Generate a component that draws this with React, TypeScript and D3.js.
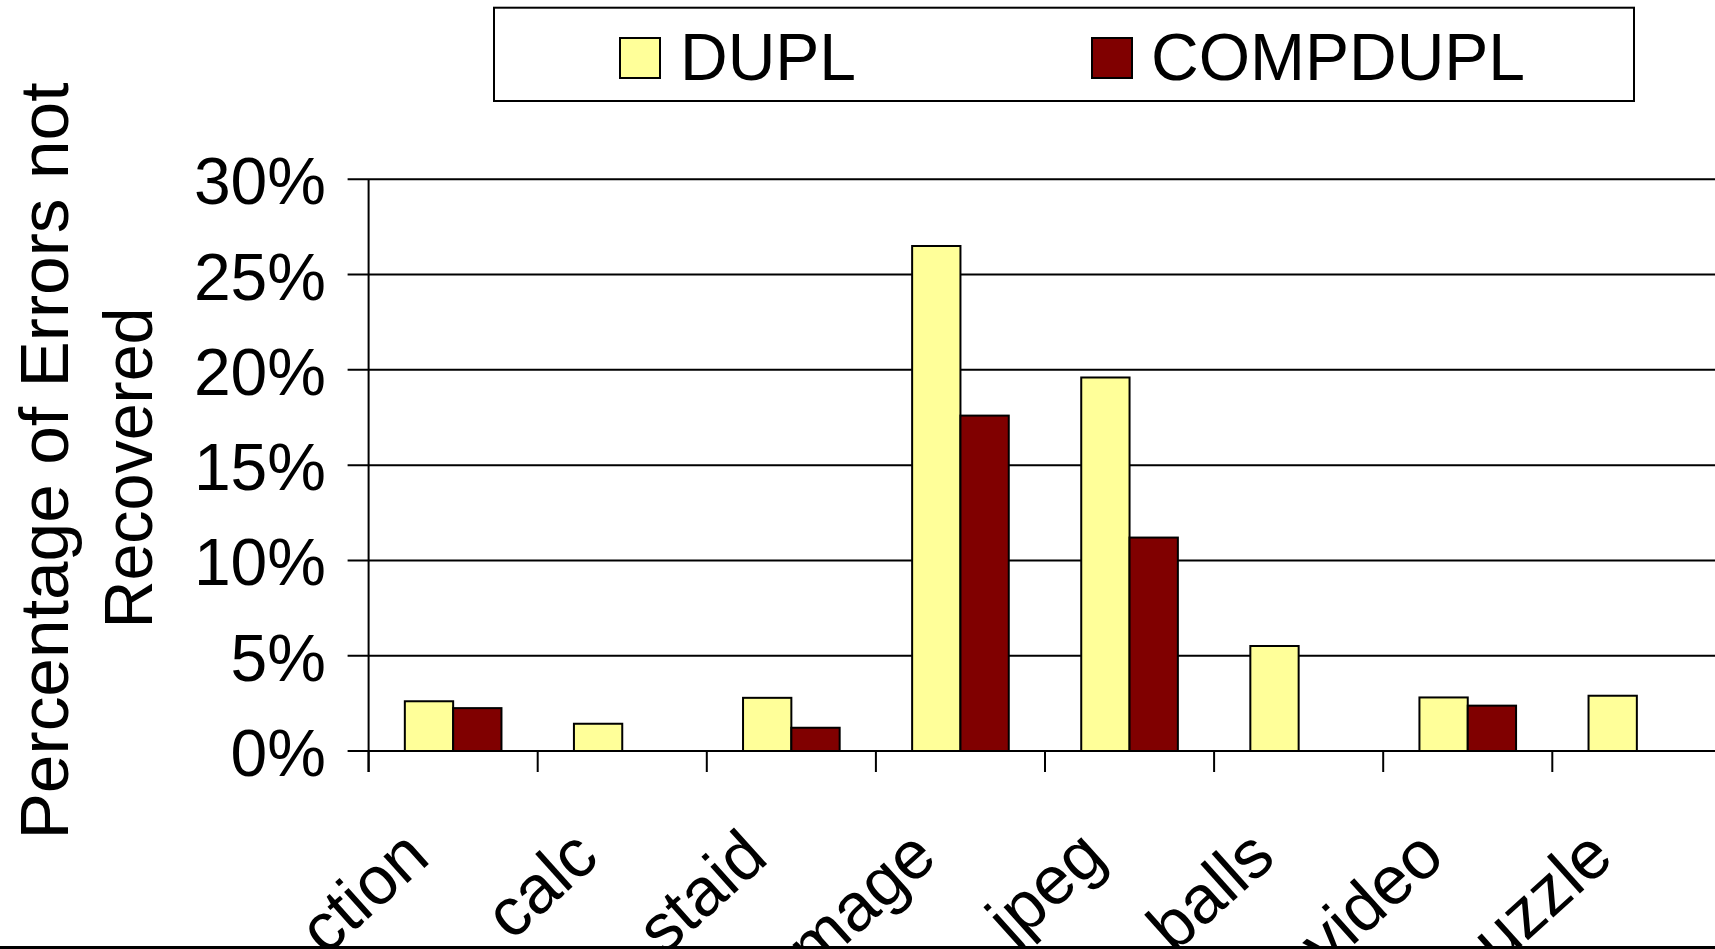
import React from "react";
import * as d3 from "d3";

// Benchmarks (names as printed along the x axis)
const categories = ["ction", "calc", "staid", "mage", "jpeg", "balls", "video", "uzzle"];
const seriesNames = ["DUPL", "COMPDUPL"];
// Percentage of errors not recovered, per benchmark
const duplValues = [2.61, 1.43, 2.79, 26.5, 19.6, 5.51, 2.81, 2.9];
const compduplValues = [2.25, 0, 1.22, 17.6, 11.2, 0, 2.38, 0];
const yTicks = [0, 5, 10, 15, 20, 25, 30];
const seriesColors = ["#FFFF99", "#800000"];

const W = 1715;
const H = 949;
const FONT = "'Liberation Sans', Arial, Helvetica, sans-serif";
const FS = 66;

export default function App() {
  const plotLeft = 368.6;
  const step = 169.1;
  const x = d3
    .scaleBand<string>()
    .domain(categories)
    .range([plotLeft, plotLeft + step * categories.length])
    .paddingInner(0)
    .paddingOuter(0);
  const xs = d3
    .scaleBand<string>()
    .domain(seriesNames)
    .range([0, x.bandwidth()])
    .paddingInner(0)
    .paddingOuter(0.75);
  const y = d3.scaleLinear().domain([0, 30]).range([751, 179.3]);
  const color = d3.scaleOrdinal<string, string>().domain(seriesNames).range(seriesColors);
  const values: Record<string, number[]> = { DUPL: duplValues, COMPDUPL: compduplValues };

  const tickLen = 21;
  const y0 = y(0);
  const yTop = y(30);

  // legend entry positions: swatch left edge and text left edge
  const legendSwatchX = [620, 1092];
  const legendTextX = [680, 1151];

  return (
    <div style={{ position: "absolute", left: 0, top: 0 }}>
      <svg width={W} height={H} viewBox={`0 0 ${W} ${H}`} style={{ display: "block", background: "#fff" }}>
        <rect x={0} y={0} width={W} height={H} fill="#fff" />

        {/* horizontal gridlines with their outside tick marks */}
        {yTicks.map((t) => (
          <line
            key={`g${t}`}
            x1={plotLeft - tickLen}
            x2={W}
            y1={y(t)}
            y2={y(t)}
            stroke="#000"
            strokeWidth={2}
          />
        ))}

        {/* y tick labels */}
        {yTicks.map((t) => (
          <text
            key={`yl${t}`}
            x={326}
            y={y(t) + 25}
            textAnchor="end"
            fontFamily={FONT}
            fontSize={FS}
            fill="#000"
          >
            {`${t}%`}
          </text>
        ))}

        {/* bars */}
        {categories.map((c, i) =>
          seriesNames.map((s) => {
            const v = values[s][i];
            if (!v) return null;
            return (
              <rect
                key={`${c}-${s}`}
                x={(x(c) as number) + (xs(s) as number)}
                y={y(v)}
                width={xs.bandwidth()}
                height={y0 - y(v)}
                fill={color(s)}
                stroke="#000"
                strokeWidth={2}
              />
            );
          })
        )}

        {/* x axis line */}
        <line x1={plotLeft} x2={W} y1={y0} y2={y0} stroke="#000" strokeWidth={2} />
        {/* y axis line */}
        <line x1={plotLeft} x2={plotLeft} y1={yTop} y2={y0 + tickLen} stroke="#000" strokeWidth={2} />

        {/* category boundary ticks */}
        {categories.map((c) => (
          <line
            key={`xt${c}`}
            x1={x(c) as number}
            x2={x(c) as number}
            y1={y0}
            y2={y0 + tickLen}
            stroke="#000"
            strokeWidth={2}
          />
        ))}

        {/* rotated category labels */}
        {categories.map((c) => {
          const cx = (x(c) as number) + x.bandwidth() / 2 - 21;
          const cy = 861;
          return (
            <text
              key={`xl${c}`}
              transform={`translate(${cx},${cy}) rotate(-42)`}
              textAnchor="end"
              fontFamily={FONT}
              fontSize={68}
              fill="#000"
            >
              {c}
            </text>
          );
        })}

        {/* y axis title */}
        <text
          transform={`translate(68,461) rotate(-90)`}
          textAnchor="middle"
          fontFamily={FONT}
          fontSize={68}
          textLength={757}
          lengthAdjust="spacingAndGlyphs"
          fill="#000"
        >
          Percentage of Errors not
        </text>
        <text
          transform={`translate(152,468) rotate(-90)`}
          textAnchor="middle"
          fontFamily={FONT}
          fontSize={68}
          textLength={321}
          lengthAdjust="spacingAndGlyphs"
          fill="#000"
        >
          Recovered
        </text>

        {/* legend */}
        <rect x={494} y={7.7} width={1140} height={93.3} fill="#fff" stroke="#000" strokeWidth={2} />
        {seriesNames.map((s, i) => (
          <g key={`lg${s}`}>
            <rect
              x={legendSwatchX[i]}
              y={38}
              width={40}
              height={40}
              fill={color(s)}
              stroke="#000"
              strokeWidth={2}
            />
            <text x={legendTextX[i]} y={80} fontFamily={FONT} fontSize={FS} fill="#000">
              {s}
            </text>
          </g>
        ))}

        {/* bottom border */}
        <line x1={0} x2={W} y1={947.5} y2={947.5} stroke="#000" strokeWidth={3} />
      </svg>
    </div>
  );
}
